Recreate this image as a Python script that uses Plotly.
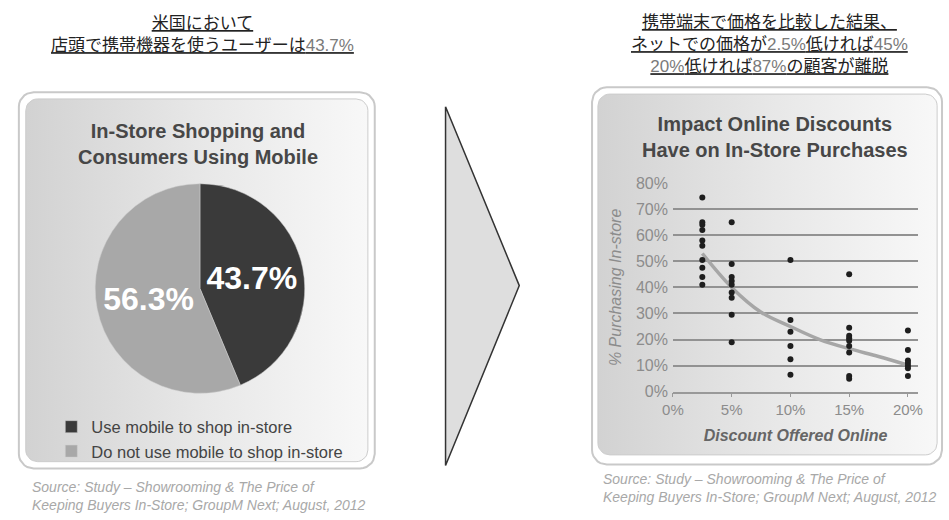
import numpy as np
import plotly.graph_objects as go

W, H = 949, 520

# ---------------- data ----------------
pie_labels = ["Use mobile to shop in-store", "Do not use mobile to shop in-store"]
pie_values = [43.7, 56.3]
pie_colors = ["#3a3a3a", "#a8a8a8"]

discount_levels = [2.5, 5, 10, 15, 20]
purchase_at_2_5 = [74.5, 65, 64, 62, 58, 56, 50.5, 47.5, 44, 41]
purchase_at_5 = [65, 49, 44, 42.5, 41, 38, 36, 29.5, 19]
purchase_at_10 = [50.5, 27.5, 23, 17.5, 12.5, 6.5]
purchase_at_15 = [45, 24.5, 21.5, 20.5, 19.5, 17.5, 15, 6, 5]
purchase_at_20 = [23.5, 16, 12, 11, 10, 9, 6]

trend_x = [2.5, 5, 7.5, 10, 12.5, 15, 17.5, 20]
trend_y = [53, 40, 30.5, 25, 20, 16.5, 13.5, 10.2]

x_tickvals = [0, 5, 10, 15, 20]
x_ticktext = ["0%", "5%", "10%", "15%", "20%"]
y_tickvals = [0, 10, 20, 30, 40, 50, 60, 70, 80]
y_ticktext = ["0%", "10%", "20%", "30%", "40%", "50%", "60%", "70%", "80%"]

FONT = "Liberation Sans, Arial, sans-serif"
CJK = "Noto Sans CJK JP, sans-serif"


def rounded_rect(x0, y0, x1, y1, r, n=8):
    xs, ys = [], []
    corners = [(x1 - r, y0 + r, -90, 0), (x1 - r, y1 - r, 0, 90),
               (x0 + r, y1 - r, 90, 180), (x0 + r, y0 + r, 180, 270)]
    for cx, cy, a0, a1 in corners:
        for a in np.linspace(np.radians(a0), np.radians(a1), n):
            xs.append(cx + r * np.cos(a))
            ys.append(cy + r * np.sin(a))
    xs.append(xs[0]); ys.append(ys[0])
    return xs, ys


fig = go.Figure()

# ---------------- decorative frames (pixel axis) ----------------
for (ox0, oy0, ox1, oy1), (ix0, iy0, ix1, iy1) in [
    ((8, 87, 370, 476), (15, 94, 363, 469)),
    ((591, 82, 947, 472), (597, 89, 942, 462)),
]:
    xs, ys = rounded_rect(ox0, oy0, ox1, oy1, 15)
    fig.add_trace(go.Scatter(x=xs, y=ys, mode="lines", fill="toself",
                             fillcolor="white", line=dict(color="#c9c9c9", width=2),
                             hoverinfo="skip", showlegend=False))
    xs, ys = rounded_rect(ix0, iy0, ix1, iy1, 12)
    fig.add_trace(go.Scatter(x=xs, y=ys, mode="lines", fill="toself",
                             fillgradient=dict(type="horizontal",
                                               colorscale=[[0, "#d2d2d2"], [0.5, "#e7e7e7"], [1, "#f8f8f8"]]),
                             line=dict(color="#cccccc", width=1),
                             hoverinfo="skip", showlegend=False))

# arrow triangle
fig.add_trace(go.Scatter(x=[442, 517, 442, 442], y=[102, 287, 473, 102], mode="lines",
                         fill="toself", fillcolor="#dedede",
                         line=dict(color="#333333", width=1.5),
                         hoverinfo="skip", showlegend=False))

# ---------------- pie ----------------
fig.add_trace(go.Pie(
    labels=pie_labels, values=pie_values, sort=False, direction="clockwise", rotation=0,
    marker=dict(colors=pie_colors, line=dict(color="#cfcfcf", width=0.5)),
    texttemplate="<b>%{value:.1f}%</b>", textposition="inside",
    insidetextorientation="horizontal",
    textfont=dict(family=FONT, size=32, color="white"),
    domain=dict(x=[82.7 / W, 301.7 / W], y=[1 - 398.3 / H, 1 - 181.7 / H]),
    hoverinfo="label+value", showlegend=True,
))

# ---------------- scatter ----------------
sx, sy = [], []
for lvl, vals in zip(discount_levels,
                     [purchase_at_2_5, purchase_at_5, purchase_at_10, purchase_at_15, purchase_at_20]):
    sx += [lvl] * len(vals)
    sy += vals

fig.add_trace(go.Scatter(x=trend_x, y=trend_y, mode="lines", line=dict(color="#a6a6a6", width=3.5, shape="spline"),
                         xaxis="x2", yaxis="y2", showlegend=False, hoverinfo="skip"))
fig.add_trace(go.Scatter(x=sx, y=sy, mode="markers", marker=dict(color="#1e1e1e", size=6),
                         xaxis="x2", yaxis="y2", showlegend=False))

# ---------------- text ----------------
G = "color:#7a7a7a;font-family:Liberation Sans"
ann = []
ann.append(dict(x=195, y=25, xref="x", yref="y", showarrow=False,
                text=f"<u>米国において</u><br><u>店頭で携帯機器を使うユーザーは<span style='{G}'>43.7%</span></u>",
                font=dict(family=CJK, size=17, color="#222222"), align="center"))
ann.append(dict(x=771, y=36, xref="x", yref="y", showarrow=False,
                text=(f"<u>携帯端末で価格を比較した結果、</u><br>"
                      f"<u>ネットでの価格が<span style='{G}'>2.5%</span>低ければ<span style='{G}'>45%</span></u><br>"
                      f"<u><span style='{G}'>20%</span>低ければ<span style='{G}'>87%</span>の顧客が離脱</u>"),
                font=dict(family=CJK, size=17, color="#222222"), align="center"))
ann.append(dict(x=190, y=141, xref="x", yref="y", showarrow=False,
                text="<b>In-Store Shopping and<br>Consumers Using Mobile</b>",
                font=dict(family=FONT, size=20, color="#474747"), align="center"))
ann.append(dict(x=777, y=133, xref="x", yref="y", showarrow=False,
                text="<b>Impact Online Discounts<br>Have on In-Store Purchases</b>",
                font=dict(family=FONT, size=20, color="#474747"), align="center"))
src = "<i>Source: Study – Showrooming & The Price of<br>Keeping Buyers In-Store; GroupM Next; August, 2012</i>"
ann.append(dict(x=19, y=505, xref="x", yref="y", showarrow=False, xanchor="left",
                text=src, font=dict(family=FONT, size=14, color="#a8a8a8"), align="left"))
ann.append(dict(x=600, y=496, xref="x", yref="y", showarrow=False, xanchor="left",
                text=src, font=dict(family=FONT, size=14, color="#a8a8a8"), align="left"))

fig.update_layout(
    width=W, height=H, autosize=False,
    margin=dict(l=0, r=0, t=0, b=0),
    paper_bgcolor="white", plot_bgcolor="rgba(0,0,0,0)",
    xaxis=dict(domain=[0, 1], range=[0, W], visible=False, fixedrange=True),
    yaxis=dict(domain=[0, 1], range=[H, 0], visible=False, fixedrange=True),
    xaxis2=dict(domain=[673.3 / W, 922.7 / W], range=[0, 20.87], anchor="y2",
                tickvals=x_tickvals, ticktext=x_ticktext, showgrid=False, zeroline=False,
                showline=True, linecolor="#999999", linewidth=1.5,
                ticks="outside", ticklen=4, tickcolor="#999999",
                tickfont=dict(family=FONT, size=15, color="#8c8c8c"),
                title=dict(text="<b><i>Discount Offered Online</i></b>", standoff=12,
                           font=dict(family=FONT, size=16, color="#666666")),
                fixedrange=True),
    yaxis2=dict(domain=[1 - 396.7 / H, 1 - 181 / H], range=[0, 80], anchor="x2",
                tickvals=y_tickvals, ticktext=y_ticktext, showgrid=True, gridcolor="#929292",
                gridwidth=1.5, zeroline=False, ticklabelstandoff=4,
                tickfont=dict(family=FONT, size=16, color="#8c8c8c"),
                title=dict(text="<i>% Purchasing In-store</i>", standoff=10,
                           font=dict(family=FONT, size=16, color="#8c8c8c")),
                fixedrange=True),
    legend=dict(x=41 / W, y=1 - 415 / H, xanchor="left", yanchor="top",
                bgcolor="rgba(0,0,0,0)", font=dict(family=FONT, size=16.5, color="#444444")),
    annotations=ann,
)

fig.write_html("out.html")
